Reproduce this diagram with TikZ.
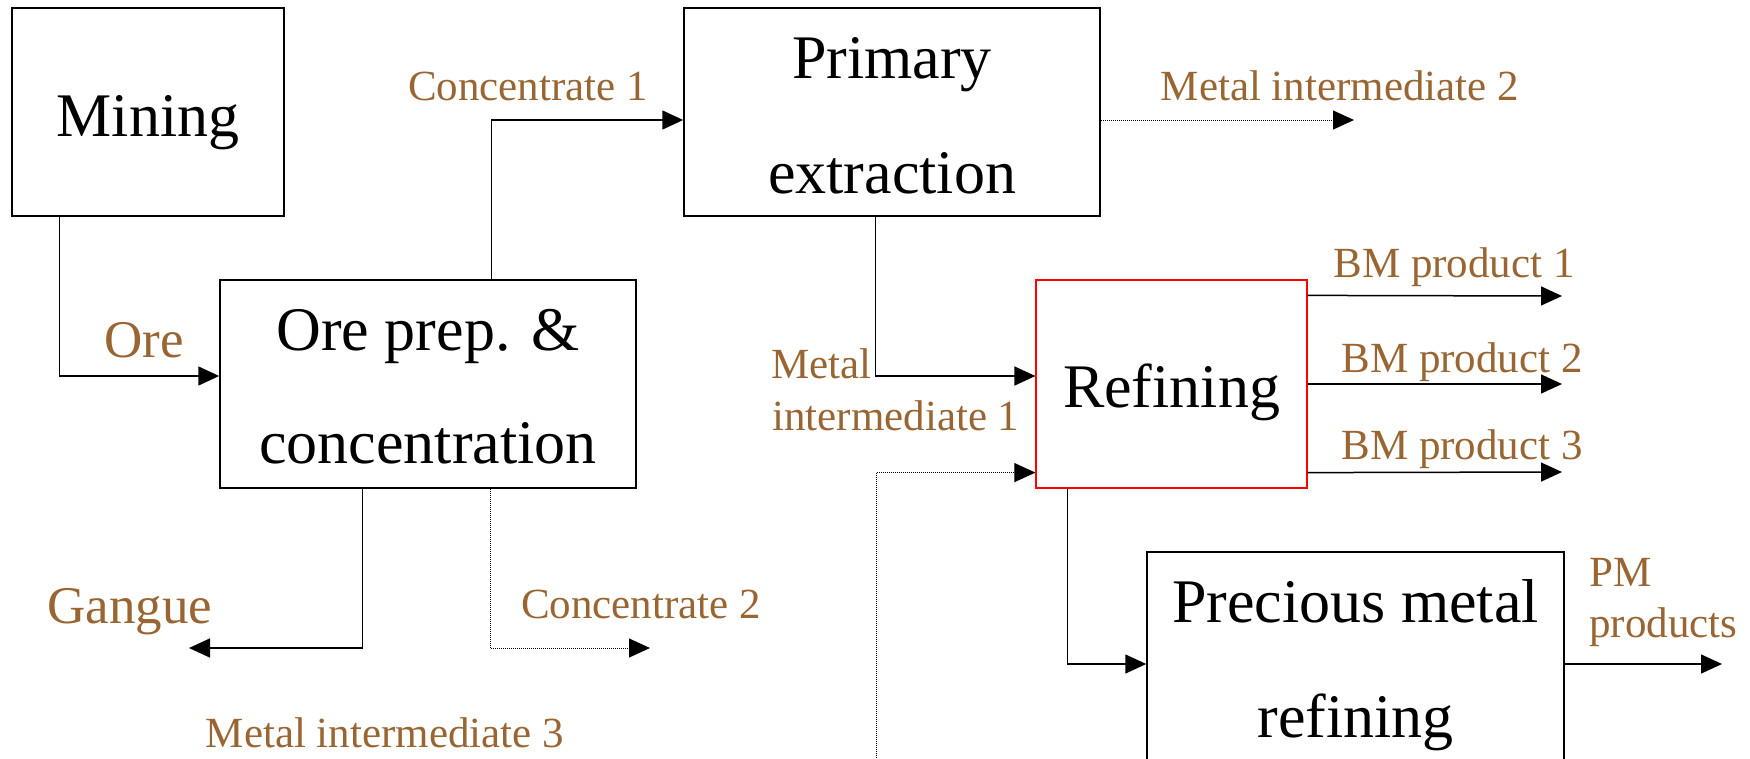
\documentclass[tikz,border=0pt]{standalone}
\usepackage{fontspec}
\setmainfont{Liberation Serif}
\usetikzlibrary{arrows.meta,calc}
\definecolor{lbl}{RGB}{153,102,51}
\begin{document}
\begin{tikzpicture}[x=1pt,y=-1pt,
  box/.style={draw=black,line width=1.5pt,inner sep=0pt,minimum height=208pt},
  boxtxt/.style={anchor=base,inner sep=0pt,font=\fontsize{62}{70}\selectfont},
  lab/.style={anchor=base,inner sep=0pt,text=lbl,font=\fontsize{43}{50}\selectfont},
  biglab/.style={anchor=base,inner sep=0pt,text=lbl,font=\fontsize{53}{60}\selectfont},
  arr/.style={line width=1.5pt,-{Triangle[length=21pt,width=19pt]}},
  darr/.style={line width=1pt,dash pattern=on 1pt off 1pt,-{Triangle[length=21pt,width=19pt]}},
]
\useasboundingbox (0,0) rectangle (1750,758);
\clip (0,0) rectangle (1750,758);

% boxes
\node[box,minimum width=272pt] (mining) at (148,112) {};
\node[box,minimum width=416pt] (oreprep) at (428,384) {};
\node[box,minimum width=416pt] (primary) at (892,112) {};
\node[box,draw=red,line width=1.2pt,minimum width=271pt] (refining) at (1171.5,384) {};
\node[box,minimum width=417pt] (pmref) at (1355.5,656) {};

% box texts
\node[boxtxt] (miningT) at (148,136) {Mining};
\node[boxtxt] (oreT1) at (428,350) {Ore prep. \&};
\node[boxtxt] (oreT2) at (428,463) {concentration};
\node[boxtxt] (primT1) at (892,78) {Primary};
\node[boxtxt] (primT2) at (892,193) {extraction};
\node[boxtxt] (refT) at (1171.5,407) {Refining};
\node[boxtxt] (pmT1) at (1355.5,622) {Precious metal};
\node[boxtxt] (pmT2) at (1355.5,737) {refining};

% free ends
\coordinate (mi2end) at (1354,120);
\coordinate (bm1end) at (1562,296);
\coordinate (bm2end) at (1562,384);
\coordinate (bm3end) at (1562,472);
\coordinate (pmend) at (1722,664);
\coordinate (gangueend) at (189,648);
\coordinate (conc2end) at (650,648);
\coordinate (mi3start) at (876,762);

% connectors
\draw[arr] ($(mining.south west)+(48,0)$) |- ($(oreprep.west)+(0,-8)$);
\draw[arr] ($(oreprep.north west)+(272,0)$) |- ($(primary.west)+(0,8)$);
\draw[darr] ($(primary.east)+(0,8)$) -- (mi2end);
\draw[arr] ($(primary.south west)+(192,0)$) |- ($(refining.west)+(0,-8)$);
\draw[arr] ($(refining.north east)+(0,16)$) -- (bm1end);
\draw[arr] (refining.east) -- (bm2end);
\draw[arr] ($(refining.south east)+(0,-16)$) -- (bm3end);
\draw[darr] (mi3start) |- ($(refining.south west)+(0,-16)$);
\draw[arr] ($(refining.south west)+(32,0)$) |- ($(pmref.west)+(0,8)$);
\draw[arr] ($(pmref.east)+(0,8)$) -- (pmend);
\draw[arr] ($(oreprep.south west)+(143,0)$) |- (gangueend);
\draw[darr] ($(oreprep.south west)+(271,0)$) |- (conc2end);

% labels
\node[biglab] (oreL) at (144,357) {Ore};
\node[lab] (conc1L) at (528,100) {Concentrate 1};
\node[lab] (mi2L) at (1340,100) {Metal intermediate 2};
\node[lab] (bm1L) at (1454,277) {BM product 1};
\node[lab] (bm2L) at (1462,372) {BM product 2};
\node[lab] (bm3L) at (1462,459) {BM product 3};
\node[lab,anchor=base west] (mi1La) at (771,378) {Metal};
\node[lab,anchor=base west] (mi1Lb) at (772,430) {intermediate 1};
\node[lab,anchor=base west] (pmLa) at (1589,586) {PM};
\node[lab,anchor=base west] (pmLb) at (1589,637) {products};
\node[biglab] (gangueL) at (130,623) {Gangue};
\node[lab] (conc2L) at (641,618) {Concentrate 2};
\node[lab] (mi3L) at (385,747) {Metal intermediate 3};
\end{tikzpicture}
\end{document}
